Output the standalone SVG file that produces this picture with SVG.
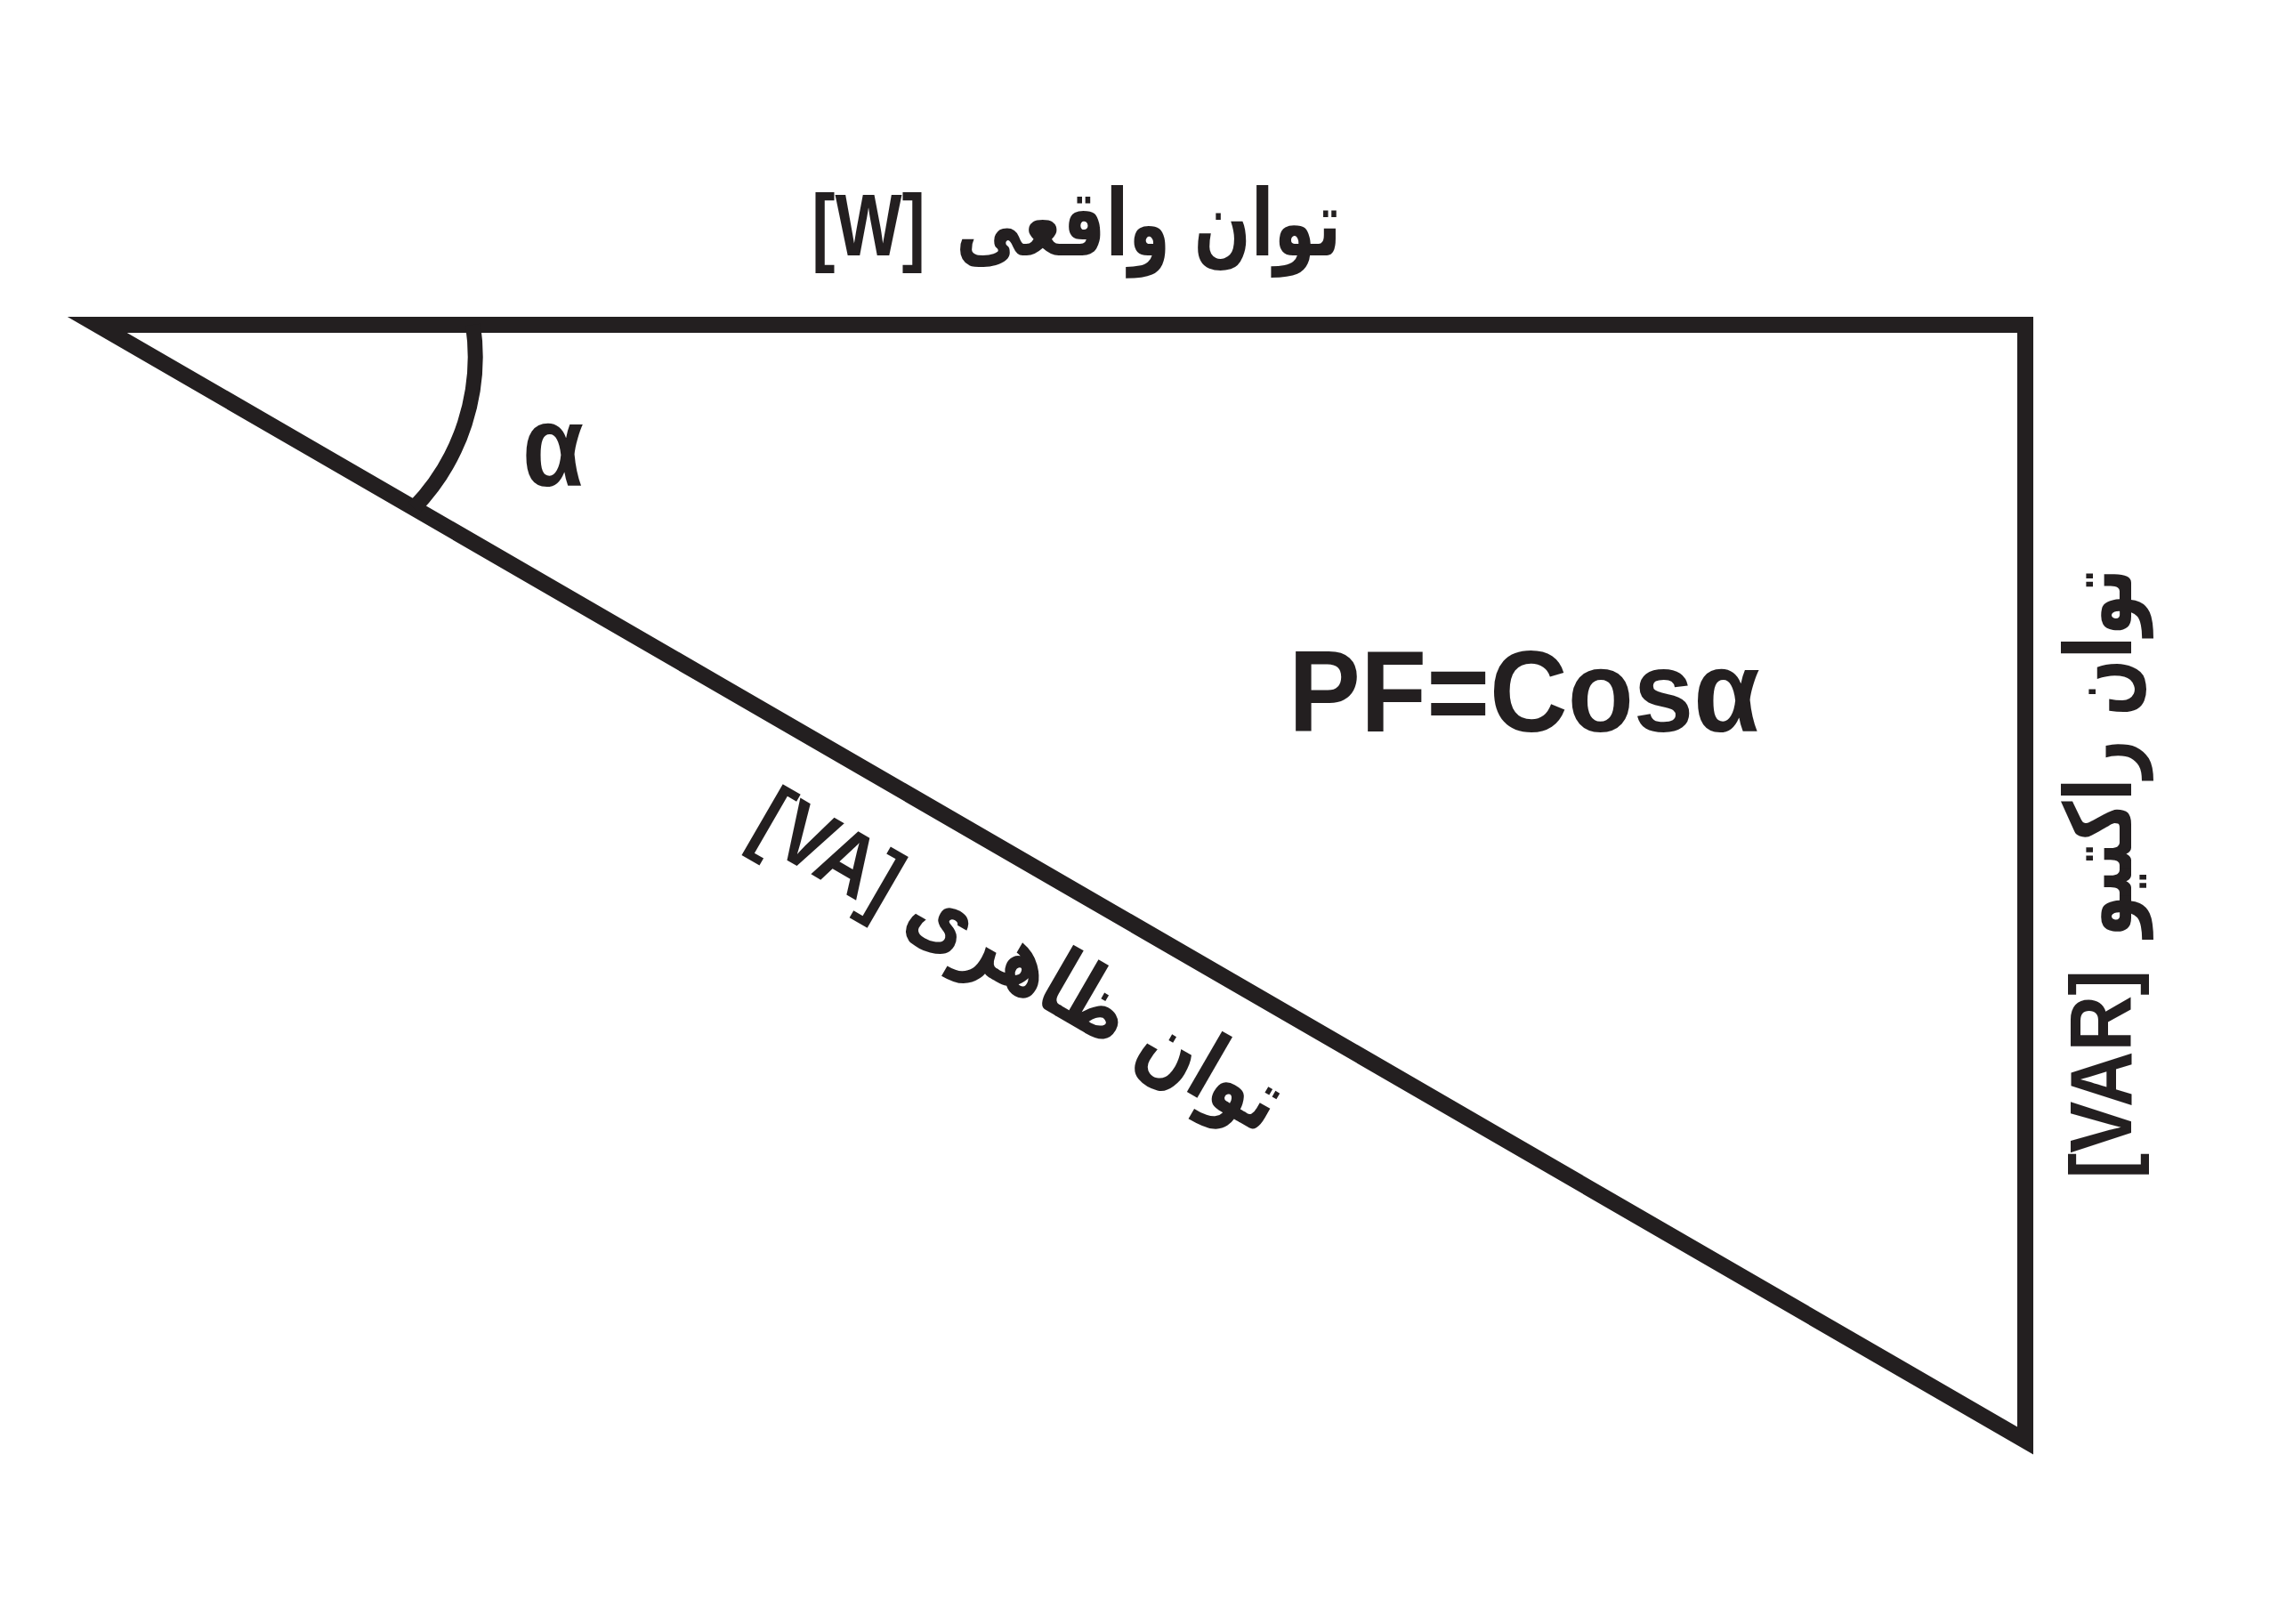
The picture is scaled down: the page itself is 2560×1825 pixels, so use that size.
<svg xmlns="http://www.w3.org/2000/svg" width="2560" height="1825" viewBox="0 0 2560 1825">
<style>
.ln{fill:none;stroke:#231f20;stroke-width:18;stroke-miterlimit:10}
.lbl{fill:#231f20;font-family:'Liberation Sans','DejaVu Sans',sans-serif;font-weight:bold;text-anchor:middle}
.fa{font-family:'DejaVu Sans',sans-serif;font-size:104px}
.la{font-size:99px}
</style>
<rect width="2560" height="1825" fill="#ffffff"/>
<g id="triangle">
<polygon class="ln" points="109.3,365 2276,365 2276,1619"/>
</g>
<g id="angle-arc">
<path class="ln" style="stroke-width:17" d="M531.5,365 A244,244 0 0 1 465,571"/>
</g>
<g id="alpha-label">
<text class="lbl" x="621.5" y="546" font-size="130" textLength="69" lengthAdjust="spacingAndGlyphs">α</text>
</g>
<g id="pf-label">
<text class="lbl" x="1713" y="822" font-size="130" textLength="530" lengthAdjust="spacingAndGlyphs">PF=Cosα</text>
</g>
<g id="real-power">
<text class="lbl la" x="976" y="287" textLength="128" lengthAdjust="spacingAndGlyphs">[W]</text>
<text class="lbl fa" x="1290.7" y="287" textLength="433" lengthAdjust="spacingAndGlyphs">توان واقعی</text>
</g>
<g id="reactive-power" transform="translate(2395,1324.7) rotate(-90)">
<text class="lbl la" x="117.5" y="0" textLength="235" lengthAdjust="spacingAndGlyphs">[VAR]</text>
<text class="lbl fa" x="478.7" y="0" textLength="414" lengthAdjust="spacingAndGlyphs">توان راکتیو</text>
</g>
<g id="apparent-power" transform="translate(839.5,940.8) rotate(30.06)">
<text class="lbl la" x="86.5" y="0" textLength="173" lengthAdjust="spacingAndGlyphs">[VA]</text>
<text class="lbl fa" x="434" y="0" textLength="468" lengthAdjust="spacingAndGlyphs">توان ظاهری</text>
</g>
</svg>
